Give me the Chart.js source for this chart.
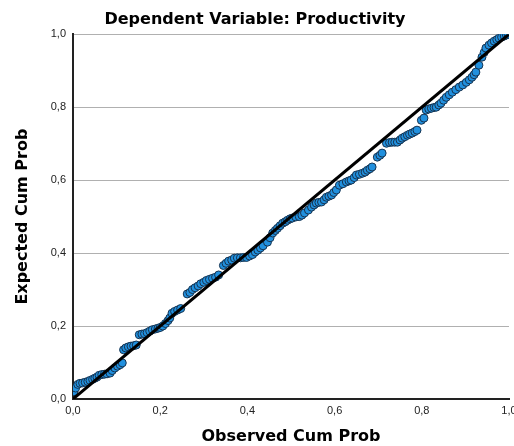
<!DOCTYPE html>
<html>
<head>
<meta charset="utf-8">
<script src="https://cdn.jsdelivr.net/npm/chart.js@4/dist/chart.umd.min.js"></script>
<style>
  html, body { margin: 0; padding: 0; background: #fff; }
  #wrap { width: 514px; height: 446px; }
</style>
</head>
<body>
<div id="wrap"><canvas id="ppChart"></canvas></div>
<script>
// P-P plot: observed vs expected cumulative probability
const observed = [
  0.002, 0.006, 0.011, 0.016, 0.022, 0.028, 0.034, 0.039, 0.045, 0.050, 0.055, 0.060, 0.066, 0.072, 0.078, 0.085, 0.090, 0.096, 0.102, 0.108, 0.113,
  0.116, 0.121, 0.127, 0.133, 0.139, 0.145,
  0.152, 0.158, 0.164, 0.170, 0.176, 0.182, 0.189, 0.195, 0.200, 0.206, 0.212, 0.218, 0.222, 0.227, 0.233, 0.240, 0.247,
  0.262, 0.268, 0.274, 0.280, 0.287, 0.293, 0.300, 0.306, 0.313, 0.320, 0.327, 0.334,
  0.345, 0.351, 0.357, 0.364, 0.370, 0.377, 0.384, 0.391, 0.398, 0.405, 0.412, 0.418, 0.424, 0.430, 0.436, 0.446, 0.452, 0.458, 0.464, 0.469, 0.475, 0.481, 0.487, 0.492, 0.498, 0.503, 0.511, 0.519, 0.525, 0.531,
  0.540, 0.547, 0.553, 0.558, 0.564, 0.570, 0.576, 0.581, 0.587, 0.593, 0.598, 0.604, 0.611, 0.619, 0.627, 0.633, 0.638, 0.645, 0.650, 0.657, 0.664, 0.670, 0.675, 0.681, 0.686,
  0.698, 0.704, 0.709,
  0.719, 0.726, 0.732, 0.738, 0.744, 0.750, 0.755, 0.761, 0.767, 0.772, 0.778, 0.784, 0.789,
  0.799, 0.805,
  0.810, 0.816, 0.822, 0.828, 0.833, 0.839, 0.844, 0.850, 0.856, 0.863, 0.870, 0.878, 0.886, 0.894, 0.902, 0.909, 0.915, 0.920, 0.924,
  0.931, 0.938, 0.943, 0.947, 0.954, 0.960, 0.966, 0.972, 0.977, 0.983, 0.989, 0.994, 0.998
];
const expected = [
  0.020, 0.030, 0.040, 0.043, 0.044, 0.046, 0.048, 0.051, 0.054, 0.057, 0.060, 0.065, 0.067, 0.068, 0.069, 0.071, 0.078, 0.085, 0.090, 0.094, 0.099,
  0.135, 0.140, 0.143, 0.145, 0.146, 0.148,
  0.176, 0.178, 0.179, 0.182, 0.186, 0.190, 0.192, 0.194, 0.196, 0.200, 0.207, 0.215, 0.222, 0.235, 0.240, 0.244, 0.248,
  0.288, 0.292, 0.300, 0.305, 0.310, 0.316, 0.320, 0.325, 0.328, 0.331, 0.334, 0.340,
  0.366, 0.372, 0.378, 0.381, 0.386, 0.387, 0.387, 0.388, 0.388, 0.392, 0.396, 0.403, 0.408, 0.414, 0.420, 0.430, 0.442, 0.455, 0.462, 0.468, 0.475, 0.482, 0.486, 0.490, 0.494, 0.496, 0.499, 0.500, 0.504, 0.510,
  0.518, 0.526, 0.532, 0.537, 0.539, 0.540, 0.546, 0.553, 0.556, 0.559, 0.566, 0.573, 0.586, 0.590, 0.595, 0.598, 0.600, 0.607, 0.614, 0.616, 0.619, 0.622, 0.627, 0.631, 0.636,
  0.663, 0.668, 0.674,
  0.701, 0.703, 0.704, 0.704, 0.704, 0.710, 0.715, 0.719, 0.723, 0.726, 0.729, 0.733, 0.737,
  0.764, 0.770,
  0.792, 0.795, 0.797, 0.799, 0.800, 0.806, 0.811, 0.819, 0.827, 0.834, 0.841, 0.848, 0.855, 0.861, 0.868, 0.875, 0.882, 0.889, 0.896,
  0.915, 0.937, 0.950, 0.962, 0.970, 0.976, 0.981, 0.985, 0.989, 0.992, 0.995, 0.998, 1.000
];
// reference diagonal
const refLine = [0, 1];
const tickLabels = ["0,0", "0,2", "0,4", "0,6", "0,8", "1,0"];

const titleFont = { family: "'DejaVu Sans', sans-serif", size: 16, weight: "bold" };
const tickFont = { family: "Arial, 'Liberation Sans', sans-serif", size: 11 };

const ctx = document.getElementById("ppChart").getContext("2d");
const chart = new Chart(ctx, {
  type: "scatter",
  data: {
    datasets: [
      {
        type: "line",
        data: refLine.map((v) => ({ x: v, y: v })),
        borderColor: "#000",
        borderWidth: 3,
        pointRadius: 0,
        order: 0,
      },
      {
        data: observed.map((x, i) => ({ x: x, y: expected[i] })),
        backgroundColor: "#2190de",
        borderColor: "#163350",
        borderWidth: 1,
        pointRadius: 4,
        order: 1,
      },
    ],
  },
  options: {
    responsive: true,
    maintainAspectRatio: false,
    animation: false,
    layout: { padding: { left: 0, right: 4, top: 0, bottom: 0 } },
    plugins: {
      legend: { display: false },
      tooltip: { enabled: false },
      title: {
        display: true,
        text: "Dependent Variable: Productivity",
        color: "#000",
        font: titleFont,
        padding: { top: 10, bottom: 5 },
      },
    },
    scales: {
      x: {
        type: "linear",
        min: 0,
        max: 1,
        ticks: {
          stepSize: 0.2,
          padding: 5,
          color: "#222",
          font: tickFont,
          maxRotation: 0,
          callback: (v, i) => tickLabels[i],
        },
        grid: { display: false, drawTicks: false },
        border: { display: true, color: "#222", width: 2 },
        title: {
          display: true,
          text: "Observed Cum Prob",
          color: "#000",
          font: titleFont,
          padding: { top: 0, bottom: 0 },
        },
        afterFit: (scale) => {
          scale.height = 47;
          scale.paddingRight = 0;
        },
      },
      y: {
        type: "linear",
        min: 0,
        max: 1,
        ticks: {
          stepSize: 0.2,
          padding: 7,
          color: "#222",
          font: tickFont,
          callback: (v, i) => tickLabels[i],
        },
        grid: { color: "#b0b0b0", lineWidth: 1, drawTicks: false },
        border: { display: true, color: "#222", width: 2 },
        title: {
          display: true,
          text: "Expected Cum Prob",
          color: "#000",
          font: titleFont,
          padding: { top: 13, bottom: 0 },
        },
        afterFit: (scale) => {
          scale.width = 73;
        },
      },
    },
  },
});
</script>
</body>
</html>
